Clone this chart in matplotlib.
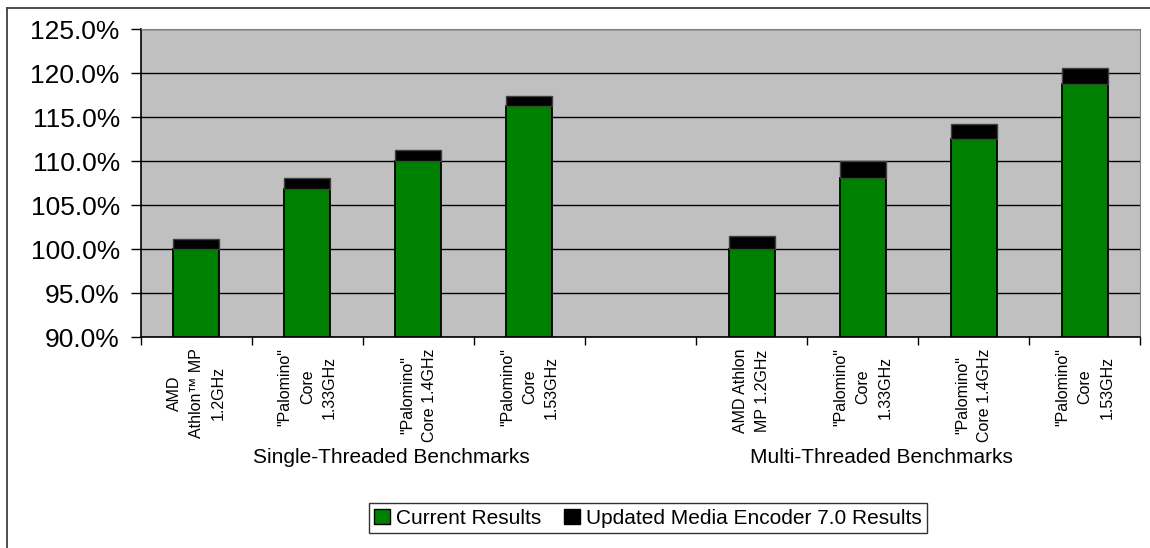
"""Windows Media Encoder 7.0 results chart, single vs multi-threaded."""

import numpy as np
import matplotlib
matplotlib.use("Agg")
import matplotlib.pyplot as plt
from matplotlib.patches import Patch
from matplotlib.ticker import FuncFormatter, FixedLocator

plt.rcParams["font.family"] = ["Liberation Sans", "DejaVu Sans"]

# category labels (slot 4 is the empty gap between groups)
categories = [
    "AMD\nAthlon\u2122 MP\n1.2GHz",
    "\"Palomino\"\nCore\n1.33GHz",
    "\"Palomino\"\nCore 1.4GHz",
    "\"Palomino\"\nCore\n1.53GHz",
    "",
    "AMD Athlon\nMP 1.2GHz",
    "\"Palomino\"\nCore\n1.33GHz",
    "\"Palomino\"\nCore 1.4GHz",
    "\"Palomino\"\nCore\n1.53GHz",
]
group_labels = ["Single-Threaded Benchmarks", "Multi-Threaded Benchmarks"]

# values in percent
single_current = [100.0, 106.8, 110.0, 116.3]
single_updated = [101.1, 108.1, 111.3, 117.4]
multi_current = [100.0, 108.1, 112.5, 118.8]
multi_updated = [101.5, 110.0, 114.2, 120.6]

series_names = ["Current Results", "Updated Media Encoder 7.0 Results"]
GREEN = "#008000"
BLACK = "#000000"
BASE = 90.0

current = np.array(single_current + [np.nan] + multi_current)
updated = np.array(single_updated + [np.nan] + multi_updated)
x = np.arange(len(categories))

fig = plt.figure(figsize=(11.5, 5.48), dpi=100)
ax = fig.add_axes([0.1223, 0.385, 0.8694, 0.5615])
ax.set_facecolor("#c0c0c0")

w = 0.414
ax.bar(x, current - BASE, bottom=BASE, width=w, color=GREEN,
       edgecolor="black", linewidth=1.3, zorder=3)
ax.bar(x, updated - current, bottom=current, width=w, color=BLACK,
       edgecolor="#404040", linewidth=1.0, zorder=3)

ax.set_ylim(90, 125)
ax.set_xlim(-0.5, len(categories) - 0.5)
ax.set_yticks(np.arange(90, 125.1, 5))
ax.yaxis.set_major_formatter(FuncFormatter(lambda v, _: f"{v:.1f}%"))
ax.yaxis.grid(True, color="black", linewidth=1.0, zorder=1)
ax.tick_params(axis="y", length=7, width=1, direction="out", pad=8,
               labelsize=19)

ax.set_xticks(x)
ax.set_xticklabels(categories, rotation=90, fontsize=11.5,
                   multialignment="center", linespacing=1.6)
ax.xaxis.set_minor_locator(FixedLocator(np.arange(-0.5, len(categories), 1.0)))
ax.tick_params(axis="x", which="major", length=0, pad=8)
ax.tick_params(axis="x", which="minor", length=6, width=1, direction="out")

for side in ["top", "right"]:
    ax.spines[side].set_color("#808080")
for side in ["left", "bottom"]:
    ax.spines[side].set_color("black")
    ax.spines[side].set_linewidth(1.2)

# group labels under the category labels
ax.text(1.76, -0.39, group_labels[0], transform=ax.get_xaxis_transform(),
        ha="center", va="center", fontsize=15)
ax.text(6.17, -0.39, group_labels[1], transform=ax.get_xaxis_transform(),
        ha="center", va="center", fontsize=15)

handles = [Patch(facecolor=GREEN, edgecolor="black"),
           Patch(facecolor=BLACK, edgecolor="black")]
leg = fig.legend(handles, series_names, loc="center",
                 bbox_to_anchor=(0.5635, 0.0547), ncol=2, fontsize=15,
                 frameon=True, fancybox=False, shadow=False,
                 handlelength=0.75, handleheight=0.75, handletextpad=0.3,
                 columnspacing=1.1, borderpad=0.25, borderaxespad=0)
leg.get_frame().set_edgecolor("black")
leg.get_frame().set_linewidth(1.0)

# outer chart-area border (cut off at right and bottom)
fig.add_artist(plt.Line2D([7 / 1150, 1.0], [1 - 7.5 / 548, 1 - 7.5 / 548],
                          color="#404040", linewidth=1.3))
fig.add_artist(plt.Line2D([7 / 1150, 7 / 1150], [0.0, 1 - 7.5 / 548],
                          color="#404040", linewidth=1.3))

fig.savefig("out.png", dpi=100)
